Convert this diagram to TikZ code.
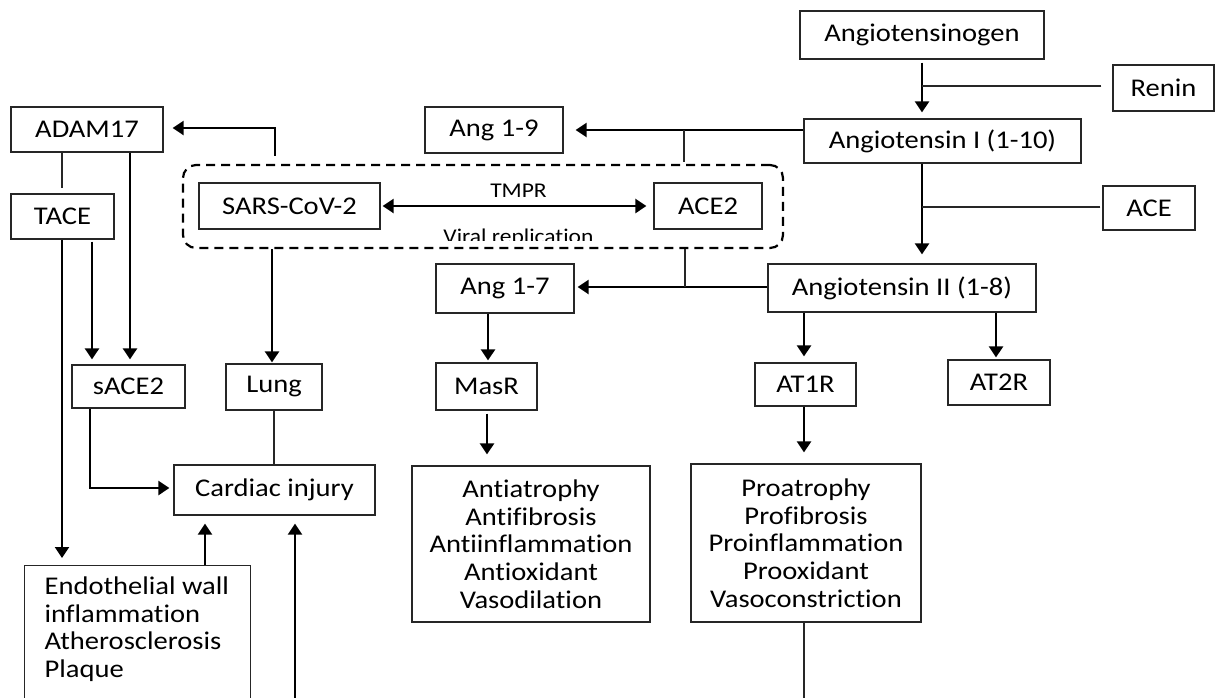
\documentclass[tikz,border=0pt]{standalone}
\usepackage{fontspec}
\setmainfont{Carlito}[FakeStretch=1.12, Ligatures=NoCommon]
\usetikzlibrary{arrows.meta}
\begin{document}
\begin{tikzpicture}[x=1pt,y=-1pt,
  box/.style={draw=black!85, line width=1.2pt, inner sep=0pt, font=\fontsize{25.5}{27.7}\selectfont},
  arr/.style={line width=2.3pt, -{Triangle[length=11pt,width=14pt]}},
  dblarr/.style={line width=2.3pt, {Triangle[length=11pt,width=14pt]}-{Triangle[length=11pt,width=14pt]}},
  thinl/.style={line width=1.2pt, draw=black!85},
  lbl/.style={font=\fontsize{21}{23}\selectfont, inner sep=0pt, anchor=base}]
\clip (0,0) rectangle (1215,697);
\fill[white] (0,0) rectangle (1215,697);
% nodes
\node[box, minimum width=244pt, minimum height=48pt] (agen) at (922,35) {Angiotensinogen};
\node[box, minimum width=101pt, minimum height=46pt] (renin) at (1163.5,88) {Renin};
\node[box, minimum width=277pt, minimum height=44pt] (ang1) at (942.5,141) {Angiotensin I (1-10)};
\node[box, minimum width=138pt, minimum height=46pt] (ang19) at (494,130) {Ang 1-9};
\node[box, minimum width=92pt, minimum height=44pt] (ace) at (1149,208) {ACE};
\node[box, minimum width=268pt, minimum height=48pt] (ang2) at (902,288) {Angiotensin II (1-8)};
\node[box, minimum width=138pt, minimum height=49pt] (ang17) at (505,288.5) {Ang 1-7};
\node[draw, dashed, line width=2.2pt, dash pattern=on 9pt off 6pt, rounded corners=13pt,
      minimum width=600pt, minimum height=83pt, inner sep=0pt] (dash) at (483,206.5) {};
\node[box, minimum width=181pt, minimum height=46pt] (sars) at (289.5,206) {SARS-CoV-2};
\node[box, minimum width=108pt, minimum height=46pt] (ace2) at (708,206) {ACE2};
\node[box, minimum width=152pt, minimum height=45pt] (adam) at (87,129.5) {ADAM17};
\node[box, minimum width=103pt, minimum height=45pt] (tace) at (62.5,216.5) {TACE};
\node[box, minimum width=113pt, minimum height=43pt] (sace2) at (128.5,386.5) {sACE2};
\node[box, minimum width=96pt, minimum height=46pt] (lung) at (274,387) {Lung};
\node[box, minimum width=201pt, minimum height=50pt] (cardiac) at (274.5,490) {Cardiac injury};
\node[box, minimum width=226pt, minimum height=200pt, anchor=north west] (endo) at (24,565) {};
\node[box, draw=none, anchor=north west, align=left] (endotxt) at (44,576)
  {Endothelial wall\\inflammation\\Atherosclerosis\\Plaque};
\node[box, minimum width=101pt, minimum height=47pt] (masr) at (486.5,386.5) {MasR};
\node[box, minimum width=238pt, minimum height=156pt, align=center] (anti) at (531,544)
  {Antiatrophy\\Antifibrosis\\Antiinflammation\\Antioxidant\\Vasodilation};
\node[box, minimum width=101pt, minimum height=43pt] (at1r) at (805.5,384.5) {AT1R};
\node[box, minimum width=230pt, minimum height=158pt, align=center] (pro) at (806,543)
  {Proatrophy\\Profibrosis\\Proinflammation\\Prooxidant\\Vasoconstriction};
\node[box, minimum width=102pt, minimum height=45pt] (at2r) at (999,382.5) {AT2R};
% labels inside dashed region
\node[lbl] (tmpr) at (518.5,197) {TMPR};
\begin{scope}
  \clip (400,220) rectangle (640,240.5);
  \node[lbl] (viral) at (518.5,243) {Viral replication};
\end{scope}
% junction coordinates
\coordinate (rj) at (922,86);
\coordinate (aj) at (922,207);
\coordinate (bot1) at (295,705);
\coordinate (bot2) at (804,705);
% RAS cascade
\draw[arr, shorten <=3pt, shorten >=6pt] (agen.south) -- (ang1.north -| agen.south);
\draw[thinl, shorten <=11pt] (rj -| renin.west) -- (rj);
\draw[arr, shorten >=9pt] (ang1.south -| 922,0) -- (ang2.north -| 922,0);
\draw[thinl, shorten <=2pt] (aj -| ace.west) -- (aj);
\draw[arr, shorten >=12pt] (ang1.west |- 0,130) -- (ang19.east |- 0,130);
\draw[thinl, shorten >=2pt] (684,130) -- (dash.north -| 684,0);
\draw[arr, shorten >=3pt] (ang2.west |- 0,287) -- (ang17.east |- 0,287);
\draw[thinl] (dash.south -| 685,0) -- (685,287);
% virus box
\draw[dblarr, shorten <=2pt, shorten >=7pt] (sars.east) -- (ace2.west);
\draw[arr, shorten <=8pt, shorten >=9pt] (dash.north -| 275,0) |- (adam.east |- 0,128);
\draw[thinl, shorten >=5pt] (adam.south -| 62,0) -- (tace.north -| 62,0);
\draw[arr, shorten >=5pt] (adam.south -| 130,0) -- (sace2.north -| 130,0);
\draw[arr, shorten <=2pt, shorten >=5pt] (tace.south -| 92,0) -- (sace2.north -| 92,0);
\draw[arr, shorten >=7pt] (tace.south -| 62,0) -- (endo.north -| 62,0);
\draw[arr, shorten >=1pt] (dash.south -| 272,0) -- (lung.north -| 272,0);
\draw[thinl] (lung.south) -- (cardiac.north -| lung.south);
\draw[arr, shorten >=4pt] (sace2.south -| 90,0) |- (cardiac.west |- 0,488);
\draw[arr, shorten >=8pt] (endo.north -| 205,0) -- (cardiac.south -| 205,0);
\draw[arr, shorten >=8pt] (bot1) -- (cardiac.south -| bot1);
% receptors
\draw[arr, shorten >=2pt] (ang17.south -| 488,0) -- (masr.north -| 488,0);
\draw[arr, shorten <=3pt, shorten >=11pt] (masr.south -| 487,0) -- (anti.north -| 487,0);
\draw[arr, shorten >=6pt] (ang2.south -| 804,0) -- (at1r.north -| 804,0);
\draw[arr, shorten >=11pt] (at1r.south -| 804,0) -- (pro.north -| 804,0);
\draw[thinl] (pro.south -| bot2) -- (bot2);
\draw[arr, shorten >=2pt] (ang2.south -| 996,0) -- (at2r.north -| 996,0);
\end{tikzpicture}
\end{document}
